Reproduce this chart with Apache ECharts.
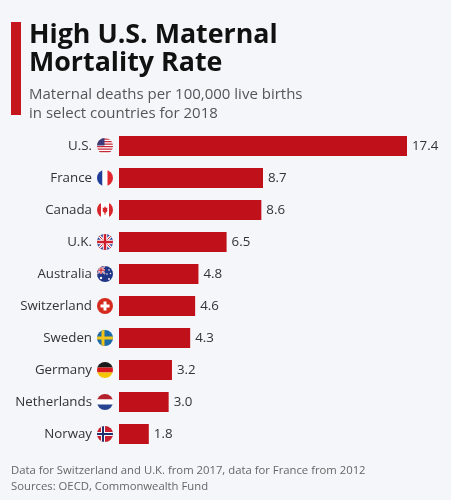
<!DOCTYPE html>
<html>
<head>
<meta charset="utf-8">
<script src="https://cdn.jsdelivr.net/npm/echarts@6/dist/echarts.min.js"></script>
<style>
html,body{margin:0;padding:0;background:#f4f6f9;}
#main{width:451px;height:500px;}
</style>
</head>
<body>
<div id="main"></div>
<script>
var countries = ['U.S.', 'France', 'Canada', 'U.K.', 'Australia', 'Switzerland', 'Sweden', 'Germany', 'Netherlands', 'Norway'];
var flagKeys = ['us', 'fr', 'ca', 'uk', 'au', 'ch', 'se', 'de', 'nl', 'no'];
var deaths = [17.4, 8.7, 8.6, 6.5, 4.8, 4.6, 4.3, 3.2, 3.0, 1.8];

function svgUri(inner) {
  var s = '<svg xmlns="http://www.w3.org/2000/svg" width="32" height="32" viewBox="0 0 32 32">' +
    '<defs><clipPath id="c"><circle cx="16" cy="16" r="16"/></clipPath></defs>' +
    '<g clip-path="url(#c)">' + inner + '</g></svg>';
  return 'data:image/svg+xml;charset=utf-8,' + encodeURIComponent(s);
}
var ukInner = '<rect width="32" height="32" fill="#2a3f8f"/>' +
  '<path d="M0 0L32 32M32 0L0 32" stroke="#fff" stroke-width="6"/>' +
  '<path d="M0 0L32 32M32 0L0 32" stroke="#d0202e" stroke-width="2"/>' +
  '<path d="M16 0V32M0 16H32" stroke="#fff" stroke-width="9"/>' +
  '<path d="M16 0V32M0 16H32" stroke="#d0202e" stroke-width="5"/>';
var flagSvgs = {
  us: '<rect width="32" height="32" fill="#fff"/>' +
      '<path d="M0 2H32M0 7H32M0 12H32M0 17H32M0 22H32M0 27H32" stroke="#c8283a" stroke-width="2.5"/>' +
      '<rect width="15" height="15" fill="#3c3b7a"/>',
  fr: '<rect width="11" height="32" fill="#1f3d99"/><rect x="11" width="10" height="32" fill="#fff"/><rect x="21" width="11" height="32" fill="#e1262e"/>',
  ca: '<rect width="32" height="32" fill="#fff"/><rect width="8" height="32" fill="#d9262c"/><rect x="24" width="8" height="32" fill="#d9262c"/>' +
      '<path d="M16 8L18 12L21 11L20 17L22 17L16 23L10 17L12 17L11 11L14 12Z" fill="#d9262c"/><rect x="15.2" y="21" width="1.6" height="5" fill="#d9262c"/>',
  uk: ukInner,
  au: '<rect width="32" height="32" fill="#1f3585"/>' +
      '<g transform="scale(0.5)">' + ukInner.replace('<rect width="32" height="32" fill="#2a3f8f"/>', '<rect width="32" height="32" fill="#1f3585"/>') + '</g>' +
      '<circle cx="8" cy="24" r="2.5" fill="#fff"/><circle cx="24" cy="8" r="1.5" fill="#fff"/><circle cx="20" cy="16" r="1.5" fill="#fff"/><circle cx="27" cy="15" r="1.5" fill="#fff"/><circle cx="24" cy="26" r="1.8" fill="#fff"/>',
  ch: '<rect width="32" height="32" fill="#d52b1e"/><rect x="13" y="7" width="6" height="18" fill="#fff"/><rect x="7" y="13" width="18" height="6" fill="#fff"/>',
  se: '<rect width="32" height="32" fill="#1c6aa8"/><rect x="9" width="6" height="32" fill="#f2c318"/><rect y="13" width="32" height="6" fill="#f2c318"/>',
  de: '<rect width="32" height="11" fill="#1a1a1a"/><rect y="11" width="32" height="10" fill="#d8191e"/><rect y="21" width="32" height="11" fill="#f5c400"/>',
  nl: '<rect width="32" height="11" fill="#b3222d"/><rect y="11" width="32" height="10" fill="#fff"/><rect y="21" width="32" height="11" fill="#2a4590"/>',
  no: '<rect width="32" height="32" fill="#c8202f"/><rect x="8" width="8" height="32" fill="#fff"/><rect y="12" width="32" height="8" fill="#fff"/>' +
      '<rect x="10" width="4" height="32" fill="#1f2f6e"/><rect y="14" width="32" height="4" fill="#1f2f6e"/>'
};

var rich = {
  name: { fontFamily: 'Open Sans', fontSize: 13.3, color: '#333', padding: [0, 5, 0, 0] }
};
flagKeys.forEach(function (k) {
  rich[k] = { width: 16, height: 16, backgroundColor: { image: svgUri(flagSvgs[k]) } };
});

var chart = echarts.init(document.getElementById('main'));
chart.setOption({
  backgroundColor: '#f4f6f9',
  animation: false,
  title: [
    {
      text: 'High U.S. Maternal\nMortality Rate',
      left: 24, top: 16,
      textStyle: { fontFamily: 'Open Sans', fontWeight: 'bold', fontSize: 26.8, lineHeight: 28.5, color: '#111' }
    },
    {
      text: 'Maternal deaths per 100,000 live births\nin select countries for 2018',
      left: 24, top: 80,
      textStyle: { fontFamily: 'Open Sans', fontWeight: 'normal', fontSize: 15, lineHeight: 19, color: '#555' }
    },
    {
      text: 'Data for Switzerland and U.K. from 2017, data for France from 2012\nSources: OECD, Commonwealth Fund',
      left: 6, top: 458,
      textStyle: { fontFamily: 'Open Sans', fontWeight: 'normal', fontSize: 11.3, lineHeight: 16, color: '#666' }
    }
  ],
  graphic: [
    { type: 'rect', shape: { x: 11, y: 22, width: 10, height: 93 }, style: { fill: '#c4161c' } }
  ],
  grid: { left: 119, top: 130, width: 288, height: 320, containLabel: false },
  xAxis: {
    type: 'value', min: 0, max: 17.4,
    show: false
  },
  yAxis: {
    type: 'category',
    data: countries,
    inverse: true,
    axisLine: { show: false },
    axisTick: { show: false },
    axisLabel: {
      margin: 6,
      formatter: function (v, i) {
        return '{name|' + v + '}{' + flagKeys[i] + '|}';
      },
      rich: rich
    }
  },
  series: [{
    type: 'bar',
    data: deaths,
    barWidth: 20,
    itemStyle: { color: '#c0101a' },
    label: {
      show: true, position: 'right', distance: 5,
      fontFamily: 'Open Sans', fontSize: 13.3, color: '#333',
      formatter: function (p) { return p.value.toFixed(1); }
    }
  }]
});
</script>
</body>
</html>
